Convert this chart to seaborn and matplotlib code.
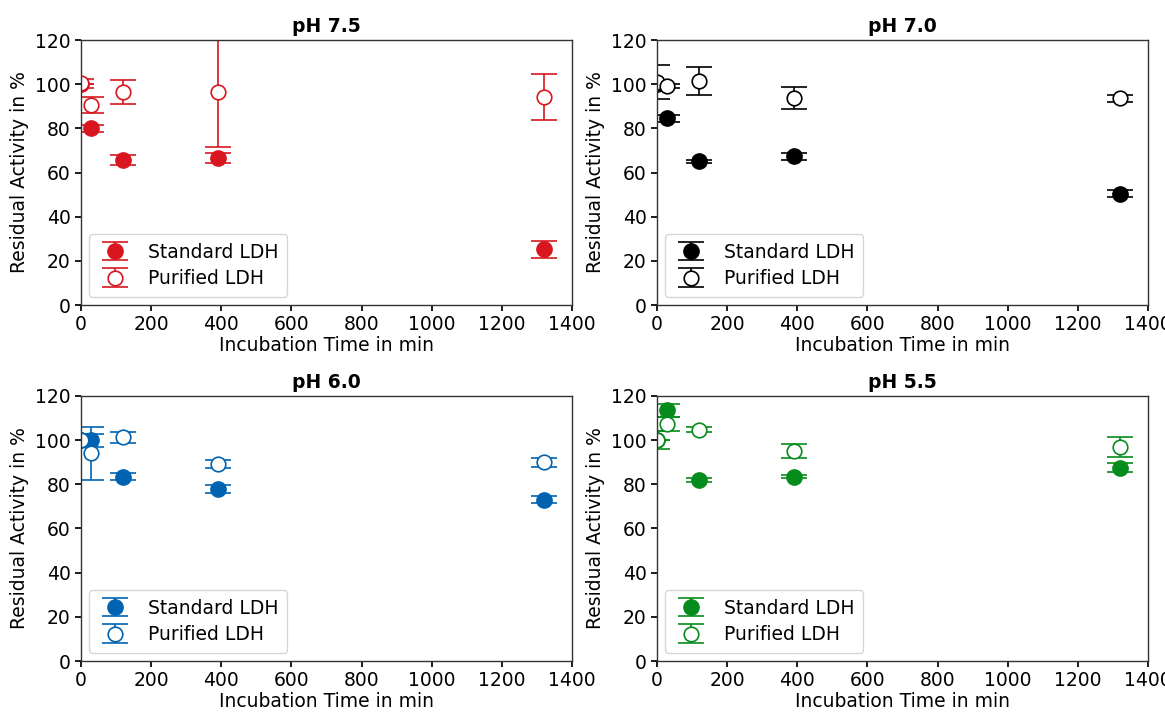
import matplotlib
matplotlib.use("Agg")
import matplotlib.pyplot as plt
import seaborn as sns
import numpy as np

# ---- data ----
times = [0, 30, 120, 390, 1320]
panels = ["pH 7.5", "pH 7.0", "pH 6.0", "pH 5.5"]

std_75 = [100, 80, 65.6, 66.7, 25.3]
std_75_err = [0, 1.5, 2.3, 2.3, 3.8]
pur_75 = [100.5, 90.5, 96.5, 96.5, 94.3]
pur_75_err = [2, 3.5, 5.3, 25, 10.3]

std_70 = [100, 84.5, 65, 67.3, 50.5]
std_70_err = [0, 1.5, 0.9, 1.7, 1.7]
pur_70 = [101, 99.2, 101.5, 93.6, 93.6]
pur_70_err = [7.8, 0.7, 6.4, 5, 1.6]

std_60 = [100, 100, 83.5, 77.8, 73]
std_60_err = [0, 3, 1.5, 1.9, 1.5]
pur_60 = [100, 94, 101.3, 89, 90]
pur_60_err = [3, 12, 2.6, 1.8, 2]

std_55 = [100, 113.5, 82, 83.5, 87.6]
std_55_err = [0, 3, 0.8, 0.5, 2.2]
pur_55 = [100, 107.5, 104.7, 95, 97]
pur_55_err = [4, 3.2, 1.2, 3.2, 4.5]

series_labels = ["Standard LDH", "Purified LDH"]
colors = ["#d7161f", "#000000", "#0063b1", "#068c1c"]

std_all = [std_75, std_70, std_60, std_55]
std_err_all = [std_75_err, std_70_err, std_60_err, std_55_err]
pur_all = [pur_75, pur_70, pur_60, pur_55]
pur_err_all = [pur_75_err, pur_70_err, pur_60_err, pur_55_err]

# ---- style ----
sns.set_theme(style="ticks", rc={
    "axes.edgecolor": "#333333",
    "axes.linewidth": 1.0,
    "xtick.major.size": 4,
    "ytick.major.size": 4,
    "text.color": "black",
    "axes.labelcolor": "black",
    "xtick.color": "black",
    "ytick.color": "black",
})
plt.rcParams["font.family"] = ["DejaVu Sans"]
FS = 13.5

fig, axes = plt.subplots(2, 2, figsize=(11.65, 7.12), dpi=100)
fig.subplots_adjust(left=0.0695, right=0.9854, top=0.9438, bottom=0.0716,
                    wspace=0.173, hspace=0.343)

for ax, title, c, s, se, p, pe in zip(axes.flat, panels, colors, std_all,
                                      std_err_all, pur_all, pur_err_all):
    ax.errorbar(times, s, yerr=se, fmt="o", color=c, ecolor=c,
                markersize=11, markerfacecolor=c, markeredgecolor=c,
                capsize=9.5, elinewidth=1.2, capthick=1.2,
                label=series_labels[0])
    ax.errorbar(times, p, yerr=pe, fmt="o", color=c, ecolor=c,
                markersize=10.5, markerfacecolor="white", markeredgecolor=c,
                markeredgewidth=1.2, capsize=9.5, elinewidth=1.2, capthick=1.2,
                label=series_labels[1])
    ax.set_xlim(0, 1400)
    ax.set_ylim(0, 120)
    ax.set_xticks(np.arange(0, 1401, 200))
    ax.set_yticks(np.arange(0, 121, 20))
    ax.tick_params(labelsize=FS)
    ax.set_title(title, fontsize=FS, fontweight="bold", color="black", pad=6)
    ax.set_xlabel("Incubation Time in min", fontsize=FS, labelpad=1)
    ax.set_ylabel("Residual Activity in %", fontsize=FS, labelpad=4)
    leg = ax.legend(loc="lower left", fontsize=FS, frameon=True,
                    borderpad=0.45, handlelength=1.8, handletextpad=0.9,
                    labelspacing=0.4, borderaxespad=0.45)
    for t in leg.get_texts():
        t.set_color("black")

fig.savefig("out.png", dpi=100)
